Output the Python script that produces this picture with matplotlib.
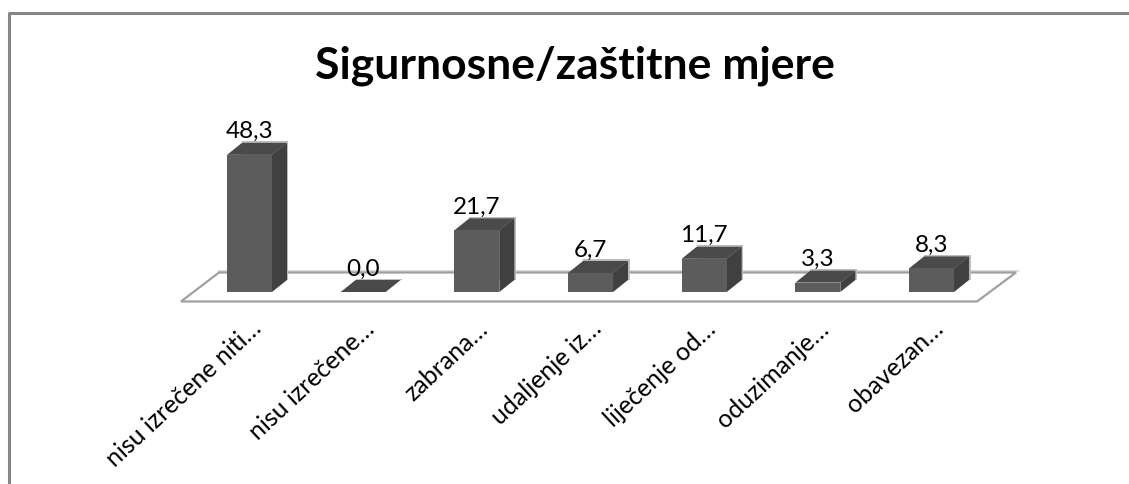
import numpy as np
import matplotlib
matplotlib.use("Agg")
import matplotlib.pyplot as plt
from matplotlib.patches import Polygon

title = "Sigurnosne/zaštitne mjere"
labels = ["nisu izrečene niti…", "nisu izrečene…", "zabrana…", "udaljenje iz…",
          "liječenje od…", "oduzimanje…", "obavezan…"]
values = [48.3, 0.0, 21.7, 6.7, 11.7, 3.3, 8.3]
value_labels = ["48,3", "0,0", "21,7", "6,7", "11,7", "3,3", "8,3"]

plt.rcParams['font.family'] = ['Lato', 'DejaVu Sans']

W, H = 1129, 484
fig = plt.figure(figsize=(W/100, H/100), dpi=100)
ax = fig.add_axes([0, 0, 1, 1])
ax.axis('off')

# axes scaled so one category = 113.67px, one unit of value = 2.84px
xs, ys = 113.67, 2.84
x0, y0 = 249.5, 292
ax.set_xlim(-x0/xs, (W-x0)/xs)
ax.set_ylim((y0-H)/ys, y0/ys)

def px(x, y):
    return (x-x0)/xs, (y0-y)/ys

# outer frame, only top and left are visible
fx, fy = zip(*[px(9.5, 484), px(9.5, 13), px(1129, 13)])
ax.plot(fx, fy, color='#868686', lw=2.2, solid_capstyle='butt')

# floor, with a pale band just behind the back edge
bx, by = zip(*[px(219, 271), px(1018, 271)])
ax.plot(bx, by, color='#dcdcdc', lw=1.5, zorder=0)
floor = [px(181, 301.5), px(977, 301.5), px(1016, 272.5), px(219, 272.5)]
ax.add_patch(Polygon(floor, closed=True, fc='white', ec='#a0a0a0', lw=1.6, zorder=1))

hw = 22.5/xs
dx, dy = 15/xs, 12/ys
ox, oy = 1.5/xs, 1.5/ys
for i, v in enumerate(values):
    l, r = i-hw, i+hw
    # pale edge behind the block
    ax.add_patch(Polygon([(l+dx, v+dy+oy), (r+dx+ox, v+dy+oy), (r+dx+ox, dy), (l+dx, dy)], fc='#bdbdbd', ec='none', zorder=2))
    # shaded sides then the front face
    ax.add_patch(Polygon([(r, 0), (r+dx, dy), (r+dx, v+dy), (r, v)], fc='#404040', ec='none', zorder=3))
    ax.add_patch(Polygon([(l, v), (r, v), (r+dx, v+dy), (l+dx, v+dy)], fc='#4a4a4a', ec='none', zorder=3))
    ax.bar(i, v, width=2*hw, bottom=0, color='#5c5c5c', zorder=4)
    ax.text(i, v+dy+0.2, value_labels[i], ha='center', va='bottom', fontsize=17.5, color='black', zorder=5)
    ax.text(i, -29/ys+1.5, labels[i], rotation=43, rotation_mode='anchor', ha='right', va='top',
            fontsize=18, color='black', zorder=5)

tx, ty = px(574.5, 66)
ax.text(tx, ty, title, ha='center', va='center', fontsize=32, fontweight='bold', color='black')

fig.savefig("out.png", dpi=100)
